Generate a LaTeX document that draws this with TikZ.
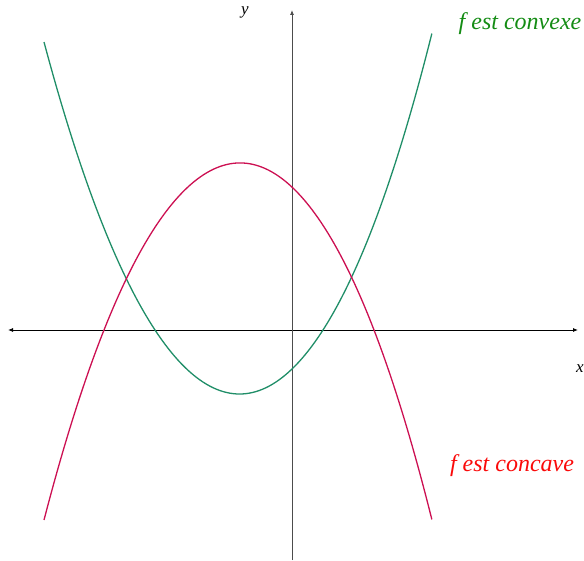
\documentclass[tikz,border=0pt]{standalone}
\usepackage{fontspec}
\setmainfont{Liberation Serif}
\usetikzlibrary{arrows.meta}

\definecolor{convexgreen}{RGB}{32,142,104}
\definecolor{concavered}{RGB}{204,16,82}
\definecolor{textgreen}{RGB}{20,140,20}
\definecolor{textred}{RGB}{250,10,10}

\begin{document}
\begin{tikzpicture}[x=1pt, y=-1pt,
    axis/.style={line width=0.8pt, arrows={-Latex[length=5pt, width=4pt]}},
    curve/.style={line width=1.3pt, shift={(292,330)}},
    axlabel/.style={font=\itshape\fontsize{17}{19}\selectfont, inner sep=0pt},
    caption/.style={font=\itshape\fontsize{24}{28}\selectfont, inner sep=0pt}
]
    \useasboundingbox (0,0) rectangle (584,561);

    % --- Axes ---
    \coordinate (xmin) at (8,330);
    \coordinate (xmax) at (578,330);
    \coordinate (ymin) at (292,560);
    \coordinate (ymax) at (292,10);
    \draw[axis, arrows={Latex[length=5pt, width=4pt]-Latex[length=5pt, width=4pt]}] (xmin) -- (xmax);
    \draw[axis, black!70] (ymin) -- (ymax);
    \node[axlabel] (xlab) at (580,369) {x};
    \node[axlabel] (ylab) at (245,12) {y};

    % --- Curves ---
    \draw[curve, convexgreen] plot[domain=-2.48:1.40, samples=120]
        ({100*\x}, {-(\x+1.37)*(\x-0.31)*(91.83+2.818*\x+1.325*\x*\x)});
    \draw[curve, concavered] plot[domain=-2.48:1.40, samples=120]
        ({100*\x}, {-(\x+1.88)*(0.82-\x)*(92.69+2.816*\x+1.667*\x*\x)});

    % --- Captions ---
    \node[caption, textgreen] (convexe) at (520,24) {f est convexe};
    \node[caption, textred]   (concave) at (512,466) {f est concave};
\end{tikzpicture}
\end{document}
